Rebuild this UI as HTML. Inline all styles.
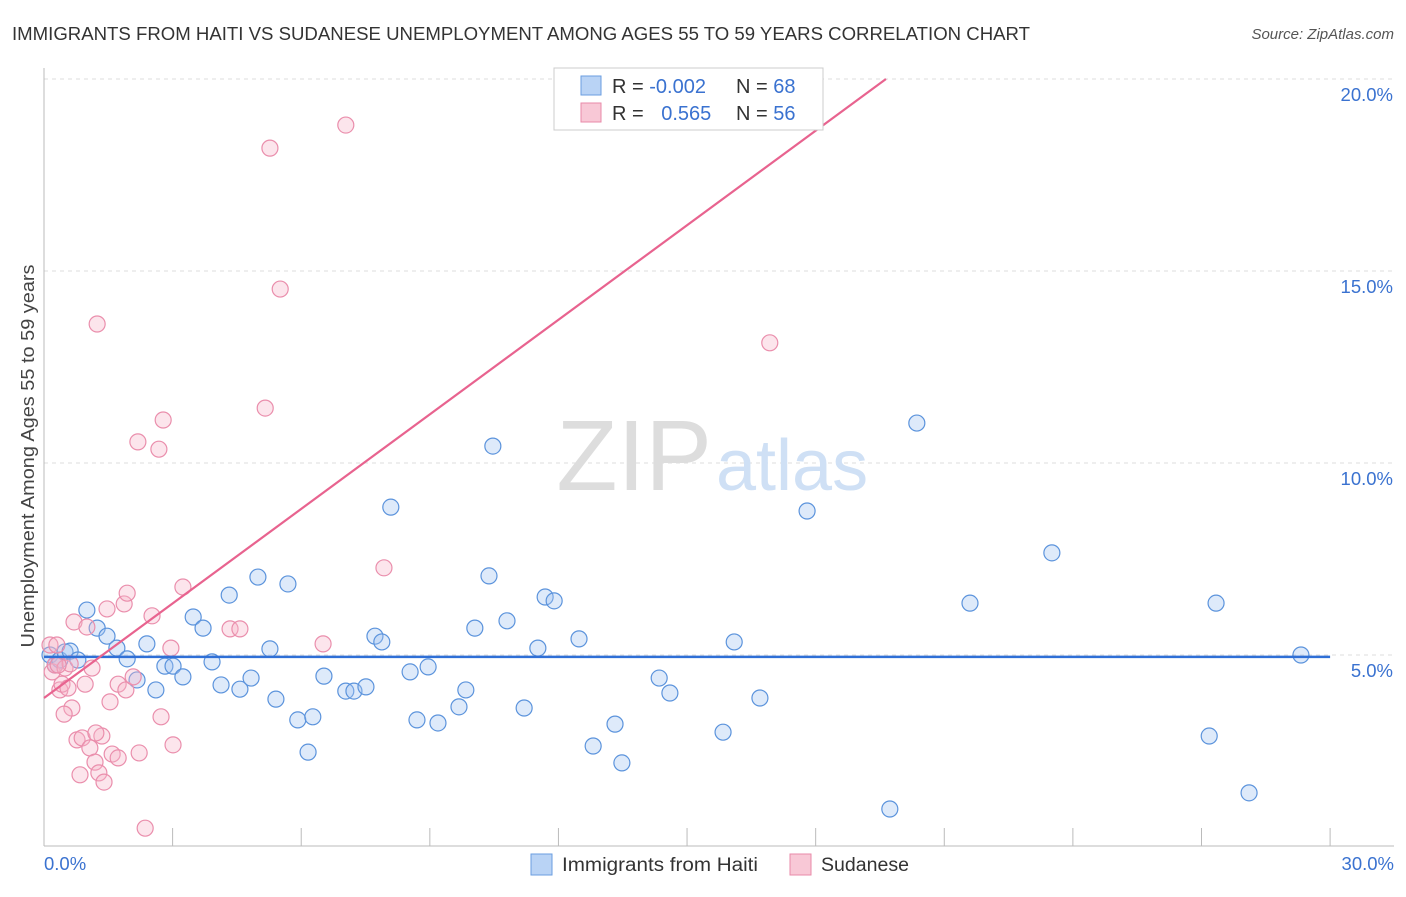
<!DOCTYPE html>
<html><head><meta charset="utf-8"><style>
body{margin:0;background:#fff;font-family:"Liberation Sans",sans-serif;}
svg text{font-family:"Liberation Sans",sans-serif;}
</style></head><body>
<svg id="chart" width="1406" height="892" viewBox="0 0 1406 892">
<text x="12" y="40" font-size="18" fill="#333" textLength="1018" lengthAdjust="spacingAndGlyphs">IMMIGRANTS FROM HAITI VS SUDANESE UNEMPLOYMENT AMONG AGES 55 TO 59 YEARS CORRELATION CHART</text>
<text x="1394" y="39" font-size="15" fill="#555" font-style="italic" text-anchor="end">Source: ZipAtlas.com</text>
<g id="grid"></g>
<text x="712" y="490" font-size="100" fill="#ddd" text-anchor="end" font-family="Liberation Serif">ZIP</text>
<text x="716" y="490" font-size="72" fill="#cfe0f5">atlas</text>
<g id="marks"></g>
<text transform="translate(34,456) rotate(-90)" font-size="18" fill="#444" text-anchor="middle" textLength="383" lengthAdjust="spacingAndGlyphs">Unemployment Among Ages 55 to 59 years</text>
<g>
<rect x="554" y="68" width="269" height="62" fill="#fff" stroke="#ccc"/>
<rect x="581" y="76" width="20" height="19" fill="#b9d3f5" stroke="#6a9ee0"/>
<rect x="581" y="103" width="20" height="19" fill="#f8c8d6" stroke="#e88aa8"/>
<text x="612" y="93" font-size="20" fill="#333">R = <tspan fill="#3a72d0">-0.002</tspan></text>
<text x="736" y="93" font-size="20" fill="#333">N = <tspan fill="#3a72d0">68</tspan></text>
<text x="612" y="120" font-size="20" fill="#333">R = <tspan fill="#3a72d0" dx="12">0.565</tspan></text>
<text x="736" y="120" font-size="20" fill="#333">N = <tspan fill="#3a72d0">56</tspan></text>
</g>
<g>
<rect x="531" y="854" width="21" height="21" fill="#b9d3f5" stroke="#6a9ee0"/>
<text x="562" y="871" font-size="19" fill="#333" textLength="196" lengthAdjust="spacingAndGlyphs">Immigrants from Haiti</text>
<rect x="790" y="854" width="21" height="21" fill="#f8c8d6" stroke="#e88aa8"/>
<text x="821" y="871" font-size="19" fill="#333" textLength="88" lengthAdjust="spacingAndGlyphs">Sudanese</text>
</g>
</svg>
<script>
const xTicks=[0,3,6,9,12,15,18,21,24,27,30];
const yTicks=[5,10,15,20];
const yTickLabels=["5.0%","10.0%","15.0%","20.0%"];
const xLabels=["0.0%","30.0%"];
const haitiPx=[[50,655],[55,665],[60,660],[65,652],[70,651],[78,660],[87,610],[97,628],[107,636],[117,648],[127,659],[137,680],[147,644],[156,690],[165,666],[173,666],[183,677],[193,617],[203,628],[212,662],[221,685],[229,595],[240,689],[251,678],[258,577],[270,649],[276,699],[288,584],[298,720],[308,752],[313,717],[324,676],[346,691],[354,691],[366,687],[375,636],[382,642],[391,507],[410,672],[417,720],[428,667],[438,723],[459,707],[466,690],[475,628],[489,576],[493,446],[507,621],[524,708],[538,648],[545,597],[554,601],[579,639],[593,746],[615,724],[622,763],[659,678],[670,693],[723,732],[734,642],[760,698],[807,511],[890,809],[917,423],[970,603],[1052,553],[1209,736],[1216,603],[1249,793],[1301,655]];
const sudPx=[[50,645],[52,672],[55,665],[57,645],[60,690],[62,684],[65,668],[68,688],[72,708],[74,622],[77,740],[80,775],[82,738],[85,684],[87,627],[90,748],[92,668],[95,762],[97,324],[99,773],[102,736],[104,782],[107,609],[110,702],[112,754],[118,758],[118,684],[124,604],[126,690],[127,593],[133,677],[138,442],[139,753],[145,828],[152,616],[159,449],[161,717],[163,420],[171,648],[173,745],[183,587],[230,629],[240,629],[265,408],[270,148],[280,289],[323,644],[346,125],[384,568],[770,343],[64,714],[96,733],[70,664],[58,665]];
const haitiX=haitiPx.map(p=>+((p[0]-44)/42.87).toFixed(2));
const haitiY=haitiPx.map(p=>+((847-p[1])/38.4).toFixed(2));
const sudX=sudPx.map(p=>+((p[0]-44)/42.87).toFixed(2));
const sudY=sudPx.map(p=>+((847-p[1])/38.4).toFixed(2));
const haitiTrend=[4.95,4.95];
const sudTrend=[3.88,20];
const sudTrendX=[0,19.64];

const X=v=>44+v*42.87, Y=v=>847-v*38.4;
const NS="http://www.w3.org/2000/svg";
const grid=document.getElementById('grid'), marks=document.getElementById('marks');
function mk(tag,attrs,parent){const e=document.createElementNS(NS,tag);for(const k in attrs)e.setAttribute(k,attrs[k]);parent.appendChild(e);return e;}
yTicks.forEach((t,i)=>{
 const l=mk('line',{x1:44,x2:1394,y1:Y(t),y2:Y(t),stroke:'#ddd','stroke-dasharray':'4,4'},grid);
 
 
 const tx=mk('text',{x:1393,y:Y(t)+22,'font-size':18.5,fill:'#3a72d0','text-anchor':'end'},grid);
 tx.textContent=yTickLabels[i];
 
 
});
const ax=mk('line',{x1:44,x2:1394,y1:846,y2:846,stroke:'#bbb'},grid);


const ay=mk('line',{x1:44,x2:44,y1:68,y2:846,stroke:'#bbb'},grid);


xTicks.forEach(t=>{
 const l=mk('line',{x1:X(t),x2:X(t),y1:828,y2:846,stroke:'#bbb'},grid);
 
 
});
[[0,44,'start'],[1,1394,'end']].forEach(([i,x,a])=>{
 const tx=mk('text',{x:x,y:870,'font-size':18.5,fill:'#3a72d0','text-anchor':a},grid);
 tx.textContent=xLabels[i];
 
 
});
haitiX.forEach((x,i)=>{
 const c=mk('circle',{cx:X(x),cy:Y(haitiY[i]),r:8,fill:'rgba(160,196,240,0.35)',stroke:'#5b93dc','stroke-width':1.2},marks);
 
 
});
sudX.forEach((x,i)=>{
 const c=mk('circle',{cx:X(x),cy:Y(sudY[i]),r:8,fill:'rgba(246,180,200,0.35)',stroke:'#ea8eac','stroke-width':1.2},marks);
 
 
});
const hl=mk('line',{x1:X(0),x2:X(30),y1:Y(haitiTrend[0]),y2:Y(haitiTrend[1]),stroke:'#2f6fd6','stroke-width':2.5},marks);


const sl=mk('line',{x1:X(sudTrendX[0]),x2:X(sudTrendX[1]),y1:Y(sudTrend[0]),y2:Y(sudTrend[1]),stroke:'#e8638f','stroke-width':2.2},marks);


</script>
</body></html>
